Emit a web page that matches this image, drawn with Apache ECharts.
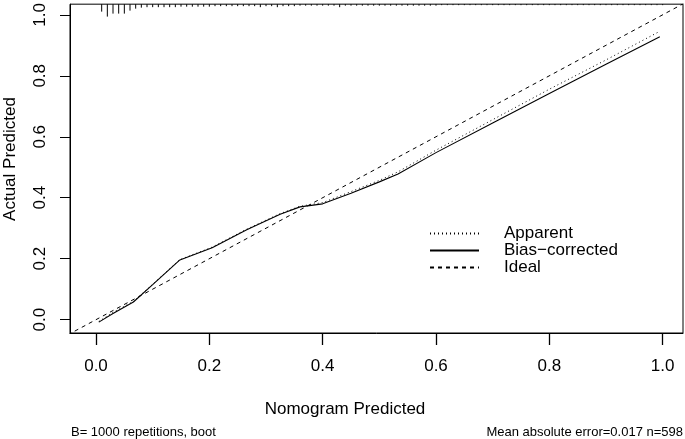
<!DOCTYPE html>
<html><head><meta charset="utf-8">
<script src="https://cdn.jsdelivr.net/npm/echarts@6/dist/echarts.min.js"></script>
<style>html,body{margin:0;padding:0;background:#fff}#c{width:685px;height:439px}</style>
</head><body><div id="c"></div>
<script>
// ---- data ----
const predX         = [0.005, 0.03, 0.066, 0.10, 0.148, 0.205, 0.266, 0.325, 0.36, 0.40, 0.45, 0.50, 0.533, 0.60, 0.70, 0.80, 0.90, 0.995];
const biasCorrected = [-0.008, 0.020, 0.058, 0.115, 0.196, 0.236, 0.295, 0.346, 0.370, 0.380, 0.415, 0.452, 0.478, 0.548, 0.645, 0.742, 0.838, 0.928];
const apparent      = [-0.006, 0.024, 0.060, 0.116, 0.197, 0.238, 0.297, 0.348, 0.372, 0.384, 0.420, 0.457, 0.485, 0.556, 0.656, 0.756, 0.852, 0.946];
const idealX        = [-0.05, 1.05];
const xTicks        = [0.0, 0.2, 0.4, 0.6, 0.8, 1.0];
const yTicks        = [0.0, 0.2, 0.4, 0.6, 0.8, 1.0];
// distribution of predicted risk (rug at top), relative frequency per 0.01 bin
const rugX = [0.01,0.02,0.03,0.04,0.05,0.06,0.07,0.08,0.09,0.10,0.11,0.12,0.13,0.14,0.15,0.16,0.17,0.18,0.19,0.20,
              0.21,0.22,0.23,0.24,0.25,0.26,0.27,0.28,0.29,0.30,0.31,0.32,0.33,0.34,0.35,0.36,0.37,0.38,0.39,0.40,
              0.41,0.42,0.43,0.44,0.45,0.46,0.47,0.48,0.49,0.50,0.51,0.52,0.53,0.54,0.55,0.56,0.57,0.58,0.59,0.60,
              0.61,0.62,0.63,0.64,0.65,0.66,0.67,0.68,0.69,0.70,0.71,0.72,0.73,0.74,0.75,0.76,0.77,0.78,0.79,0.80,
              0.81,0.82,0.83,0.84,0.85,0.86,0.87,0.88,0.89,0.90,0.91,0.92,0.93,0.94,0.95,0.96,0.97,0.98,0.99,1.00];
const rugFreq = [7.5,12.5,9.5,9.5,9.5,6.5,4.5,3.5,3,3,3,3,3,3,2.5,2.5,2.5,2.5,2.5,2.5,
                 2,2,2,2,2,2,2,2,3,2,2,3,2,2,2,1.5,1.5,1.5,1.5,1.5,
                 1.5,1.5,3,1.5,1.5,1.5,1.5,1.5,1.5,1.5,1.5,1.5,1.5,1.5,1.5,1.5,1.5,1.5,1.5,1.5,
                 1,1,1,1,1,1,1,1,1,1,1,1,1,1,1,1,1,1,1,1,
                 1,1,1,1,1,1,1,1,1,1,1,1,1,1,1,1,1,1,1,1];

const X_MIN = -0.0459, X_MAX = 1.0359, Y_MIN = -0.0437, Y_MAX = 1.0349;
const RUG_UNIT = 0.00326;
const FONT = "'Liberation Sans', Arial, Helvetica, sans-serif";

const zip = (a, b) => a.map((v, i) => [v, b[i]]);

const chart = echarts.init(document.getElementById('c'), null, {renderer: 'canvas'});
chart.setOption({
  animation: false,
  grid: {left: 70, right: 2, top: 2, bottom: 106, show: true, borderColor: '#000', borderWidth: 1, backgroundColor: 'transparent'},
  xAxis: {
    type: 'value', min: X_MIN, max: X_MAX, position: 'bottom',
    axisLine: {show: true, onZero: false, lineStyle: {color: '#000', width: 1}},
    splitLine: {show: false},
    axisTick: {show: true, length: 12, lineStyle: {color: '#000', width: 1.3}, customValues: xTicks},
    axisLabel: {customValues: xTicks, formatter: v => v.toFixed(1), fontSize: 17, color: '#000', fontFamily: FONT, margin: 25}
  },
  yAxis: {
    type: 'value', min: Y_MIN, max: Y_MAX, position: 'left',
    axisLine: {show: true, onZero: false, lineStyle: {color: '#000', width: 1}},
    splitLine: {show: false},
    axisTick: {show: true, length: 10, lineStyle: {color: '#000', width: 1}, customValues: yTicks},
    axisLabel: {customValues: yTicks, formatter: v => v.toFixed(1), fontSize: 17, color: '#000', fontFamily: FONT, margin: 21, rotate: 90}
  },
  legend: {
    orient: 'vertical', left: 429, top: 225, padding: 0,
    itemWidth: 49, itemHeight: 16, itemGap: 0, selectedMode: false,
    itemStyle: {opacity: 0},
    data: ['Apparent', 'Bias\u2212corrected', 'Ideal'],
    textStyle: {fontSize: 17, color: '#000', fontFamily: FONT, lineHeight: 16, padding: [0, 0, 0, 20]}
  },
  series: [
    {name: 'Ideal', type: 'line', data: zip(idealX, idealX), symbol: 'none', clip: true, color: '#000',
     lineStyle: {color: '#000', width: 1, type: [4, 4]}},
    {name: 'Apparent', type: 'line', data: zip(predX, apparent), symbol: 'none', color: '#000',
     lineStyle: {color: '#000', width: 1, type: [1, 3]}},
    {name: 'Bias\u2212corrected', type: 'line', data: zip(predX, biasCorrected), symbol: 'none', color: '#000',
     lineStyle: {color: '#000', width: 1.1, type: 'solid'}},
    {name: 'rug', type: 'custom', data: zip(rugX, rugFreq), silent: true,
     renderItem: (params, api) => {
       const x = api.value(0), f = api.value(1);
       const p1 = api.coord([x, Y_MAX]);
       const p2 = api.coord([x, Y_MAX - f * RUG_UNIT]);
       return {type: 'line', shape: {x1: p1[0], y1: p1[1], x2: p2[0], y2: p2[1]}, style: {stroke: '#000', lineWidth: 1}};
     }}
  ],
  graphic: [
    {type: 'text', x: 345, y: 409, style: {text: 'Nomogram Predicted', fontSize: 17, fontFamily: FONT, fill: '#000', align: 'center', verticalAlign: 'middle'}},
    {type: 'text', x: 10, y: 159, rotation: Math.PI / 2, style: {text: 'Actual Predicted', fontSize: 17, fontFamily: FONT, fill: '#000', align: 'center', verticalAlign: 'middle'}},
    {type: 'text', x: 71, y: 432, style: {text: 'B= 1000 repetitions, boot', fontSize: 13, fontFamily: FONT, fill: '#000', align: 'left', verticalAlign: 'middle'}},
    {type: 'text', x: 683, y: 432, style: {text: 'Mean absolute error=0.017 n=598', fontSize: 13, fontFamily: FONT, fill: '#000', align: 'right', verticalAlign: 'middle'}}
  ]
});
</script>
</body></html>
